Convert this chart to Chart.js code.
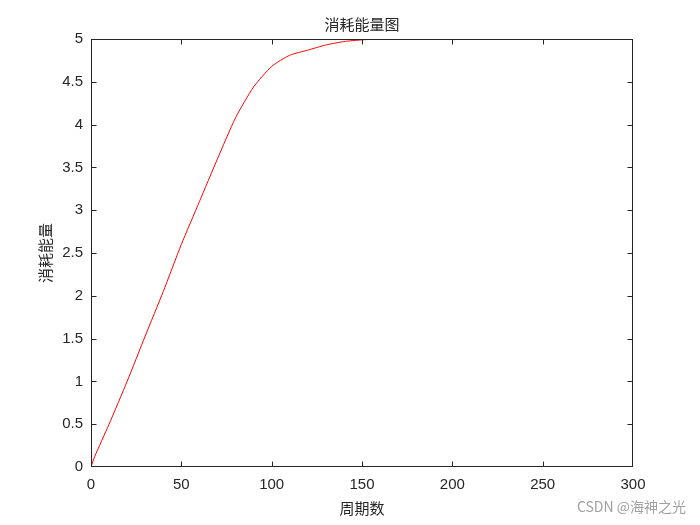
<!DOCTYPE html>
<html>
<head>
<meta charset="utf-8">
<script src="https://cdn.jsdelivr.net/npm/chart.js@4/dist/chart.umd.min.js"></script>
<style>
  html, body { margin: 0; padding: 0; background: #fff; }
  #wrap { width: 700px; height: 525px; }
</style>
</head>
<body>
<div id="wrap"><canvas id="energyChart" width="700" height="525"></canvas></div>
<script>
// 周期数 vs 消耗能量
const periods = [0, 2, 10, 20, 30, 40, 50, 60, 70, 80, 90, 100, 110, 120, 130, 140, 150, 160, 180, 200, 220, 240, 260, 280, 300];
const energy  = [0, 0.12, 0.5, 1.0, 1.53, 2.05, 2.6, 3.1, 3.6, 4.08, 4.44, 4.68, 4.81, 4.87, 4.93, 4.97, 4.99, 5.0, 5.0, 5.0, 5.0, 5.0, 5.0, 5.0, 5.0];
const xTicks = [0, 50, 100, 150, 200, 250, 300];
const yTicks = [0, 0.5, 1, 1.5, 2, 2.5, 3, 3.5, 4, 4.5, 5];

const cjk = '"Noto Sans CJK SC", "Noto Sans", sans-serif';
const axisFont = '"Liberation Sans", Arial, sans-serif';

// matlab style box with inward ticks, title over the axes, watermark
const boxPlugin = {
  id: 'box',
  afterDraw(chart) {
    const { ctx, chartArea: a, scales } = chart;
    const len = 5;
    const L = a.left + 0.5, R = a.right - 0.5, T = a.top + 0.5, B = a.bottom - 0.5;
    ctx.save();
    ctx.strokeStyle = '#262626';
    ctx.lineWidth = 1;
    ctx.strokeRect(L, T, R - L, B - T);
    ctx.beginPath();
    xTicks.forEach(v => {
      const px = Math.min(R, Math.max(L, Math.round(scales.x.getPixelForValue(v)) + 0.5));
      ctx.moveTo(px, B); ctx.lineTo(px, B - len);
      ctx.moveTo(px, T); ctx.lineTo(px, T + len);
    });
    yTicks.forEach(v => {
      const py = Math.min(B, Math.max(T, Math.round(scales.y.getPixelForValue(v)) + 0.5));
      ctx.moveTo(L, py); ctx.lineTo(L + len, py);
      ctx.moveTo(R, py); ctx.lineTo(R - len, py);
    });
    ctx.stroke();

    ctx.fillStyle = '#262626';
    ctx.font = '15px ' + cjk;
    ctx.textAlign = 'center';
    ctx.textBaseline = 'middle';
    ctx.fillText('消耗能量图', (a.left + a.right) / 2, 24);

    ctx.fillStyle = '#a0a0a0';
    ctx.font = '14px ' + cjk;
    ctx.textAlign = 'right';
    ctx.fillText('CSDN @海神之光', 686, 507);
    ctx.restore();
  }
};

new Chart(document.getElementById('energyChart'), {
  type: 'line',
  data: {
    datasets: [{
      data: periods.map((p, i) => ({ x: p, y: energy[i] })),
      borderColor: '#ff0000',
      borderWidth: 1,
      pointRadius: 0,
      tension: 0.2,
      fill: false
    }]
  },
  options: {
    responsive: false,
    animation: false,
    layout: { padding: { top: 39, right: 67, bottom: 0, left: 0 } },
    plugins: {
      legend: { display: false },
      tooltip: { enabled: false },
      title: { display: false }
    },
    scales: {
      x: {
        type: 'linear',
        min: 0, max: 300,
        afterFit: s => { s.height = 58; },
        afterBuildTicks: s => { s.ticks = xTicks.map(v => ({ value: v })); },
        grid: { display: false, drawTicks: false },
        border: { display: false },
        ticks: { color: '#262626', padding: 9, maxRotation: 0, font: { family: axisFont, size: 15 } },
        title: {
          display: true, text: '周期数', color: '#262626',
          font: { family: cjk, size: 15, lineHeight: 1.2 },
          padding: { top: 0, bottom: 8 }
        }
      },
      y: {
        type: 'linear',
        min: 0, max: 5,
        afterFit: s => { s.width = 91; },
        afterBuildTicks: s => { s.ticks = yTicks.map(v => ({ value: v })); },
        grid: { display: false, drawTicks: false },
        border: { display: false },
        ticks: {
          color: '#262626', padding: 8, font: { family: axisFont, size: 15 },
          callback: v => String(v)
        },
        title: {
          display: true, text: '消耗能量', color: '#262626',
          font: { family: cjk, size: 15, lineHeight: 1.2 },
          padding: { top: 36, bottom: 0 }
        }
      }
    }
  },
  plugins: [boxPlugin]
});
</script>
</body>
</html>
